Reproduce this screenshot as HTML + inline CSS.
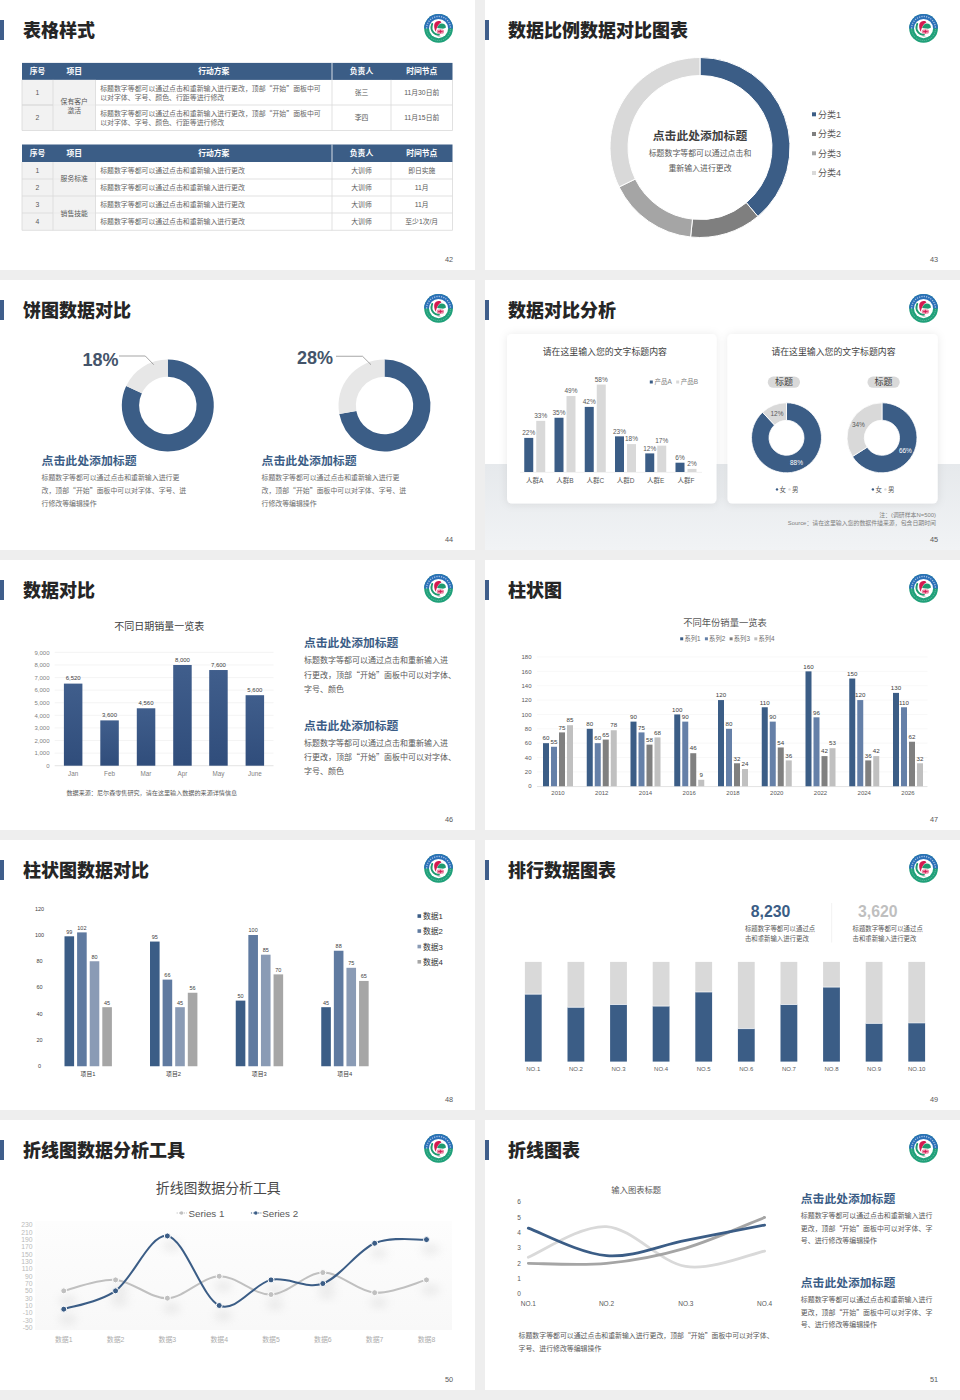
<!DOCTYPE html>
<html lang="zh-CN">
<head>
<meta charset="utf-8">
<title>Slides</title>
<style>
*{margin:0;padding:0;box-sizing:border-box}
html,body{width:960px;height:1400px;background:#eeeeee;overflow:hidden}
body{position:relative;font-family:"Liberation Sans","Noto Sans CJK SC",sans-serif;color:#595959}
.s{position:absolute;width:475px;height:270px;background:#fff;overflow:hidden}
.c{position:absolute;left:0;top:0}
.bar{position:absolute;left:0;top:20px;width:4.2px;height:20px;background:#3f5e8b}
.t{position:absolute;left:23px;top:18.5px;font-size:18px;line-height:24px;font-weight:900;color:#262626;white-space:nowrap;font-family:"Liberation Sans","Noto Sans CJK SC",sans-serif}
.logo{position:absolute;left:423.8px;top:13.6px;width:29px;height:29px}
.pn{position:absolute;right:22px;top:255px;font-size:7.3px;line-height:10px;color:#595959;font-family:"Liberation Sans",sans-serif}
svg text{font-family:"Liberation Sans","Noto Sans CJK SC",sans-serif}

</style>
</head>
<body>
<div class="s" style="left:0px;top:0px">
<svg class="c" width="475" height="270" viewBox="0 0 475 270">
<rect x="22.00" y="62.90" width="430.50" height="17.00" fill="#3b5d86"/>
<line x1="332.00" y1="62.90" x2="332.00" y2="79.90" stroke="#ffffff" stroke-width="0.8"/>
<text x="37.50" y="74.21" font-size="7.8" fill="#ffffff" text-anchor="middle" font-weight="bold">序号</text>
<text x="74.25" y="74.21" font-size="7.8" fill="#ffffff" text-anchor="middle" font-weight="bold">项目</text>
<text x="213.75" y="74.21" font-size="7.8" fill="#ffffff" text-anchor="middle" font-weight="bold">行动方案</text>
<text x="361.50" y="74.21" font-size="7.8" fill="#ffffff" text-anchor="middle" font-weight="bold">负责人</text>
<text x="421.75" y="74.21" font-size="7.8" fill="#ffffff" text-anchor="middle" font-weight="bold">时间节点</text>
<rect x="22.00" y="79.90" width="73.50" height="50.60" fill="#f2f2f2"/>
<line x1="22.00" y1="105.00" x2="452.50" y2="105.00" stroke="#d9d9d9" stroke-width="0.8"/>
<line x1="22.00" y1="130.50" x2="452.50" y2="130.50" stroke="#d9d9d9" stroke-width="0.8"/>
<line x1="22.00" y1="105.00" x2="53.00" y2="105.00" stroke="#d9d9d9" stroke-width="0.8"/>
<line x1="22.00" y1="79.90" x2="22.00" y2="130.50" stroke="#d9d9d9" stroke-width="0.8"/>
<line x1="53.00" y1="79.90" x2="53.00" y2="130.50" stroke="#d9d9d9" stroke-width="0.8"/>
<line x1="95.50" y1="79.90" x2="95.50" y2="130.50" stroke="#d9d9d9" stroke-width="0.8"/>
<line x1="332.00" y1="79.90" x2="332.00" y2="130.50" stroke="#d9d9d9" stroke-width="0.8"/>
<line x1="391.00" y1="79.90" x2="391.00" y2="130.50" stroke="#d9d9d9" stroke-width="0.8"/>
<line x1="452.50" y1="79.90" x2="452.50" y2="130.50" stroke="#d9d9d9" stroke-width="0.8"/>
<rect x="53.40" y="104.40" width="41.70" height="1.20" fill="#f2f2f2"/>
<text x="37.50" y="94.90" font-size="6.8" fill="#595959" text-anchor="middle">1</text>
<text x="100.20" y="90.83" font-size="6.9" fill="#666666">标题数字等都可以通过点击和重新输入进行更改，顶部<tspan font-family="Noto Sans CJK SC">“</tspan>开始<tspan font-family="Noto Sans CJK SC">”</tspan>面板中可</text>
<text x="100.20" y="100.03" font-size="6.9" fill="#666666">以对字体、字号、颜色、行距等进行修改</text>
<text x="361.50" y="94.90" font-size="6.8" fill="#595959" text-anchor="middle">张三</text>
<text x="421.75" y="94.90" font-size="6.8" fill="#595959" text-anchor="middle">11月30日前</text>
<text x="37.50" y="120.20" font-size="6.8" fill="#595959" text-anchor="middle">2</text>
<text x="100.20" y="116.13" font-size="6.9" fill="#666666">标题数字等都可以通过点击和重新输入进行更改，顶部<tspan font-family="Noto Sans CJK SC">“</tspan>开始<tspan font-family="Noto Sans CJK SC">”</tspan>面板中可</text>
<text x="100.20" y="125.33" font-size="6.9" fill="#666666">以对字体、字号、颜色、行距等进行修改</text>
<text x="361.50" y="120.20" font-size="6.8" fill="#595959" text-anchor="middle">李四</text>
<text x="421.75" y="120.20" font-size="6.8" fill="#595959" text-anchor="middle">11月15日前</text>
<text x="74.20" y="104.35" font-size="6.8" fill="#595959" text-anchor="middle">保有客户</text>
<text x="74.20" y="112.85" font-size="6.8" fill="#595959" text-anchor="middle">激活</text>
<rect x="22.00" y="144.50" width="430.50" height="17.50" fill="#3b5d86"/>
<line x1="332.00" y1="144.50" x2="332.00" y2="162.00" stroke="#ffffff" stroke-width="0.8"/>
<text x="37.50" y="156.06" font-size="7.8" fill="#ffffff" text-anchor="middle" font-weight="bold">序号</text>
<text x="74.25" y="156.06" font-size="7.8" fill="#ffffff" text-anchor="middle" font-weight="bold">项目</text>
<text x="213.75" y="156.06" font-size="7.8" fill="#ffffff" text-anchor="middle" font-weight="bold">行动方案</text>
<text x="361.50" y="156.06" font-size="7.8" fill="#ffffff" text-anchor="middle" font-weight="bold">负责人</text>
<text x="421.75" y="156.06" font-size="7.8" fill="#ffffff" text-anchor="middle" font-weight="bold">时间节点</text>
<rect x="22.00" y="162.00" width="73.50" height="68.30" fill="#f2f2f2"/>
<line x1="22.00" y1="179.00" x2="452.50" y2="179.00" stroke="#d9d9d9" stroke-width="0.8"/>
<line x1="22.00" y1="196.00" x2="452.50" y2="196.00" stroke="#d9d9d9" stroke-width="0.8"/>
<line x1="22.00" y1="213.00" x2="452.50" y2="213.00" stroke="#d9d9d9" stroke-width="0.8"/>
<line x1="22.00" y1="230.30" x2="452.50" y2="230.30" stroke="#d9d9d9" stroke-width="0.8"/>
<line x1="22.00" y1="162.00" x2="22.00" y2="230.30" stroke="#d9d9d9" stroke-width="0.8"/>
<line x1="53.00" y1="162.00" x2="53.00" y2="230.30" stroke="#d9d9d9" stroke-width="0.8"/>
<line x1="95.50" y1="162.00" x2="95.50" y2="230.30" stroke="#d9d9d9" stroke-width="0.8"/>
<line x1="332.00" y1="162.00" x2="332.00" y2="230.30" stroke="#d9d9d9" stroke-width="0.8"/>
<line x1="391.00" y1="162.00" x2="391.00" y2="230.30" stroke="#d9d9d9" stroke-width="0.8"/>
<line x1="452.50" y1="162.00" x2="452.50" y2="230.30" stroke="#d9d9d9" stroke-width="0.8"/>
<rect x="53.40" y="178.40" width="41.70" height="1.20" fill="#f2f2f2"/>
<rect x="53.40" y="212.40" width="41.70" height="1.20" fill="#f2f2f2"/>
<text x="37.50" y="172.95" font-size="6.8" fill="#595959" text-anchor="middle">1</text>
<text x="100.20" y="172.98" font-size="6.9" fill="#666666">标题数字等都可以通过点击和重新输入进行更改</text>
<text x="361.50" y="172.95" font-size="6.8" fill="#595959" text-anchor="middle">大训师</text>
<text x="421.75" y="172.95" font-size="6.8" fill="#595959" text-anchor="middle">即日实施</text>
<text x="37.50" y="189.95" font-size="6.8" fill="#595959" text-anchor="middle">2</text>
<text x="100.20" y="189.98" font-size="6.9" fill="#666666">标题数字等都可以通过点击和重新输入进行更改</text>
<text x="361.50" y="189.95" font-size="6.8" fill="#595959" text-anchor="middle">大训师</text>
<text x="421.75" y="189.95" font-size="6.8" fill="#595959" text-anchor="middle">11月</text>
<text x="37.50" y="206.95" font-size="6.8" fill="#595959" text-anchor="middle">3</text>
<text x="100.20" y="206.98" font-size="6.9" fill="#666666">标题数字等都可以通过点击和重新输入进行更改</text>
<text x="361.50" y="206.95" font-size="6.8" fill="#595959" text-anchor="middle">大训师</text>
<text x="421.75" y="206.95" font-size="6.8" fill="#595959" text-anchor="middle">11月</text>
<text x="37.50" y="224.10" font-size="6.8" fill="#595959" text-anchor="middle">4</text>
<text x="100.20" y="224.13" font-size="6.9" fill="#666666">标题数字等都可以通过点击和重新输入进行更改</text>
<text x="361.50" y="224.10" font-size="6.8" fill="#595959" text-anchor="middle">大训师</text>
<text x="421.75" y="224.10" font-size="6.8" fill="#595959" text-anchor="middle">至少1次/月</text>
<text x="74.20" y="181.45" font-size="6.8" fill="#595959" text-anchor="middle">服务标准</text>
<text x="74.20" y="215.60" font-size="6.8" fill="#595959" text-anchor="middle">销售技能</text>
</svg>
<div class="bar"></div><div class="t">表格样式</div>
<svg class="logo" viewBox="0 0 29 29"><circle cx="14.55" cy="14.45" r="14.35" fill="#1fa079"/>
<path d="M0.2,14.4 A14.35,14.35 0 0 1 28.9,14.4 Z" fill="#2a6fb8"/>
<path d="M2.6,14.4 A11.95,11.95 0 0 1 26.5,14.4" fill="none" stroke="#fff" stroke-width="1.3" stroke-dasharray="1.2 1.15" opacity="0.6"/>
<path d="M2.6,14.6 A11.95,11.95 0 0 0 26.5,14.6" fill="none" stroke="#fff" stroke-width="1" stroke-dasharray="0.9 1.2" opacity="0.35"/>
<circle cx="14.55" cy="14.6" r="9.55" fill="#fff"/>
<path d="M8.2,10 C7,13.2 7.4,16.5 9.5,18.7 C11,20.3 13,21 14.9,20.7" fill="none" stroke="#1e9a70" stroke-width="1.9" stroke-linecap="round"/>
<path d="M11.6,17.8 C10.4,15 9.8,12 10.4,9.9 C11.2,7.4 13.6,6.6 15.7,7 C16.6,7.2 17.2,7.9 17.4,8.6 C14.9,9.4 13,12.6 11.6,17.8 Z" fill="#d41a50"/>
<path d="M13.1,14.1 C13.9,11.4 15.6,9.6 17.8,9.6 C20.2,9.6 22,11.2 21.9,13.6 C20.6,15 18.6,14.7 17,14.5 C15.6,14.3 14.2,14.2 13.1,14.1 Z" fill="#1e9a70"/>
<rect x="12.7" y="15.4" width="7.3" height="4.3" rx="1.6" fill="#ea8aa6"/>
<path d="M14.1,17.55 H18.6 M16.35,15.7 V19.4" stroke="#d41a50" stroke-width="0.9"/>
<rect x="13.6" y="21.7" width="2.8" height="1" fill="#bbbbbb"/></svg>
<div class="pn">42</div>
</div>
<div class="s" style="left:485px;top:0px">
<svg class="c" width="475" height="270" viewBox="0 0 475 270">
<path d="M215.00,57.50 A90,90 0 0 1 272.85,216.44 L261.28,202.66 A72,72 0 0 0 215.00,75.50 Z" fill="#3b5d86" stroke="#fff" stroke-width="1"/>
<path d="M272.85,216.44 A90,90 0 0 1 205.59,237.01 L207.47,219.11 A72,72 0 0 0 261.28,202.66 Z" fill="#7f7f7f" stroke="#fff" stroke-width="1"/>
<path d="M205.59,237.01 A90,90 0 0 1 134.11,186.95 L150.29,179.06 A72,72 0 0 0 207.47,219.11 Z" fill="#a5a5a5" stroke="#fff" stroke-width="1"/>
<path d="M134.11,186.95 A90,90 0 0 1 215.00,57.50 L215.00,75.50 A72,72 0 0 0 150.29,179.06 Z" fill="#d9d9d9" stroke="#fff" stroke-width="1"/>
<text x="215.00" y="139.65" font-size="11.8" fill="#404040" text-anchor="middle" font-weight="bold">点击此处添加标题</text>
<text x="215.00" y="155.84" font-size="7.9" fill="#595959" text-anchor="middle">标题数字等都可以通过点击和</text>
<text x="215.00" y="170.54" font-size="7.9" fill="#595959" text-anchor="middle">重新输入进行更改</text>
<rect x="327.00" y="112.30" width="4.00" height="4.00" fill="#3b5d86"/>
<text x="333.00" y="117.54" font-size="9" fill="#595959">分类1</text>
<rect x="327.00" y="132.00" width="4.00" height="4.00" fill="#7f7f7f"/>
<text x="333.00" y="137.24" font-size="9" fill="#595959">分类2</text>
<rect x="327.00" y="151.30" width="4.00" height="4.00" fill="#a5a5a5"/>
<text x="333.00" y="156.54" font-size="9" fill="#595959">分类3</text>
<rect x="327.00" y="171.00" width="4.00" height="4.00" fill="#d9d9d9"/>
<text x="333.00" y="176.24" font-size="9" fill="#595959">分类4</text>
</svg>
<div class="bar"></div><div class="t">数据比例数据对比图表</div>
<svg class="logo" viewBox="0 0 29 29"><circle cx="14.55" cy="14.45" r="14.35" fill="#1fa079"/>
<path d="M0.2,14.4 A14.35,14.35 0 0 1 28.9,14.4 Z" fill="#2a6fb8"/>
<path d="M2.6,14.4 A11.95,11.95 0 0 1 26.5,14.4" fill="none" stroke="#fff" stroke-width="1.3" stroke-dasharray="1.2 1.15" opacity="0.6"/>
<path d="M2.6,14.6 A11.95,11.95 0 0 0 26.5,14.6" fill="none" stroke="#fff" stroke-width="1" stroke-dasharray="0.9 1.2" opacity="0.35"/>
<circle cx="14.55" cy="14.6" r="9.55" fill="#fff"/>
<path d="M8.2,10 C7,13.2 7.4,16.5 9.5,18.7 C11,20.3 13,21 14.9,20.7" fill="none" stroke="#1e9a70" stroke-width="1.9" stroke-linecap="round"/>
<path d="M11.6,17.8 C10.4,15 9.8,12 10.4,9.9 C11.2,7.4 13.6,6.6 15.7,7 C16.6,7.2 17.2,7.9 17.4,8.6 C14.9,9.4 13,12.6 11.6,17.8 Z" fill="#d41a50"/>
<path d="M13.1,14.1 C13.9,11.4 15.6,9.6 17.8,9.6 C20.2,9.6 22,11.2 21.9,13.6 C20.6,15 18.6,14.7 17,14.5 C15.6,14.3 14.2,14.2 13.1,14.1 Z" fill="#1e9a70"/>
<rect x="12.7" y="15.4" width="7.3" height="4.3" rx="1.6" fill="#ea8aa6"/>
<path d="M14.1,17.55 H18.6 M16.35,15.7 V19.4" stroke="#d41a50" stroke-width="0.9"/>
<rect x="13.6" y="21.7" width="2.8" height="1" fill="#bbbbbb"/></svg>
<div class="pn">43</div>
</div>
<div class="s" style="left:0px;top:280px">
<svg class="c" width="475" height="270" viewBox="0 0 475 270">
<path d="M167.80,79.50 A46,46 0 1 1 126.18,105.91 L141.83,113.28 A28.7,28.7 0 1 0 167.80,96.80 Z" fill="#3b5d86"/>
<path d="M126.18,105.91 A46,46 0 0 1 167.80,79.50 L167.80,96.80 A28.7,28.7 0 0 0 141.83,113.28 Z" fill="#e7e7e7"/>
<text x="82.50" y="86.48" font-size="18" fill="#44546a" font-weight="bold">18%</text>
<polyline points="119,76 145.3,76 153.75,84.7" fill="none" stroke="#7f7f7f" stroke-width="0.7"/>
<path d="M384.50,79.50 A46,46 0 1 1 339.31,134.12 L356.31,130.88 A28.7,28.7 0 1 0 384.50,96.80 Z" fill="#3b5d86"/>
<path d="M339.31,134.12 A46,46 0 0 1 384.50,79.50 L384.50,96.80 A28.7,28.7 0 0 0 356.31,130.88 Z" fill="#e7e7e7"/>
<text x="297.00" y="83.68" font-size="18" fill="#44546a" font-weight="bold">28%</text>
<polyline points="336,76.25 362.5,76.25 371,84.7" fill="none" stroke="#7f7f7f" stroke-width="0.7"/>
<text x="41.50" y="185.28" font-size="11.9" fill="#3b5d86" font-weight="bold">点击此处添加标题</text>
<text x="41.50" y="200.48" font-size="6.9" fill="#6b6b6b">标题数字等都可以通过点击和重新输入进行更</text>
<text x="41.50" y="213.48" font-size="6.9" fill="#6b6b6b">改，顶部<tspan font-family="Noto Sans CJK SC">“</tspan>开始<tspan font-family="Noto Sans CJK SC">”</tspan>面板中可以对字体、字号、进</text>
<text x="41.50" y="225.98" font-size="6.9" fill="#6b6b6b">行修改等编辑操作</text>
<text x="261.50" y="185.28" font-size="11.9" fill="#3b5d86" font-weight="bold">点击此处添加标题</text>
<text x="261.50" y="200.48" font-size="6.9" fill="#6b6b6b">标题数字等都可以通过点击和重新输入进行更</text>
<text x="261.50" y="213.48" font-size="6.9" fill="#6b6b6b">改，顶部<tspan font-family="Noto Sans CJK SC">“</tspan>开始<tspan font-family="Noto Sans CJK SC">”</tspan>面板中可以对字体、字号、进</text>
<text x="261.50" y="225.98" font-size="6.9" fill="#6b6b6b">行修改等编辑操作</text>
</svg>
<div class="bar"></div><div class="t">饼图数据对比</div>
<svg class="logo" viewBox="0 0 29 29"><circle cx="14.55" cy="14.45" r="14.35" fill="#1fa079"/>
<path d="M0.2,14.4 A14.35,14.35 0 0 1 28.9,14.4 Z" fill="#2a6fb8"/>
<path d="M2.6,14.4 A11.95,11.95 0 0 1 26.5,14.4" fill="none" stroke="#fff" stroke-width="1.3" stroke-dasharray="1.2 1.15" opacity="0.6"/>
<path d="M2.6,14.6 A11.95,11.95 0 0 0 26.5,14.6" fill="none" stroke="#fff" stroke-width="1" stroke-dasharray="0.9 1.2" opacity="0.35"/>
<circle cx="14.55" cy="14.6" r="9.55" fill="#fff"/>
<path d="M8.2,10 C7,13.2 7.4,16.5 9.5,18.7 C11,20.3 13,21 14.9,20.7" fill="none" stroke="#1e9a70" stroke-width="1.9" stroke-linecap="round"/>
<path d="M11.6,17.8 C10.4,15 9.8,12 10.4,9.9 C11.2,7.4 13.6,6.6 15.7,7 C16.6,7.2 17.2,7.9 17.4,8.6 C14.9,9.4 13,12.6 11.6,17.8 Z" fill="#d41a50"/>
<path d="M13.1,14.1 C13.9,11.4 15.6,9.6 17.8,9.6 C20.2,9.6 22,11.2 21.9,13.6 C20.6,15 18.6,14.7 17,14.5 C15.6,14.3 14.2,14.2 13.1,14.1 Z" fill="#1e9a70"/>
<rect x="12.7" y="15.4" width="7.3" height="4.3" rx="1.6" fill="#ea8aa6"/>
<path d="M14.1,17.55 H18.6 M16.35,15.7 V19.4" stroke="#d41a50" stroke-width="0.9"/>
<rect x="13.6" y="21.7" width="2.8" height="1" fill="#bbbbbb"/></svg>
<div class="pn">44</div>
</div>
<div class="s" style="left:485px;top:280px">
<svg class="c" width="475" height="270" viewBox="0 0 475 270">
<defs><linearGradient id="g45" x1="0" y1="0" x2="0" y2="1"><stop offset="0" stop-color="#e6e9ec"/><stop offset="1" stop-color="#f1f3f5"/></linearGradient><filter id="sh45" x="-15%" y="-20%" width="130%" height="140%"><feDropShadow dx="0" dy="0.5" stdDeviation="4" flood-color="#000" flood-opacity="0.09"/></filter></defs>
<rect x="0.00" y="184.00" width="475.00" height="86.00" fill="url(#g45)"/>
<rect x="22" y="54" width="209.5" height="169.6" rx="5" fill="#fff" filter="url(#sh45)"/>
<rect x="242.5" y="54" width="210.2" height="169.6" rx="5" fill="#fff" filter="url(#sh45)"/>
<text x="119.85" y="74.60" font-size="8.9" fill="#404040" text-anchor="middle">请在这里输入您的文字标题内容</text>
<rect x="164.80" y="100.50" width="3.00" height="3.00" fill="#3b5d86"/>
<text x="169.50" y="104.34" font-size="6.5" fill="#7f7f7f">产品A</text>
<rect x="191.20" y="100.50" width="3.00" height="3.00" fill="#d9d9d9"/>
<text x="195.80" y="104.34" font-size="6.5" fill="#7f7f7f">产品B</text>
<line x1="35.00" y1="192.40" x2="217.00" y2="192.40" stroke="#ececec" stroke-width="0.8"/>
<rect x="39.25" y="157.90" width="9.00" height="34.10" fill="#3b5d86"/>
<rect x="51.25" y="140.85" width="9.00" height="51.15" fill="#d9d9d9"/>
<text x="43.75" y="155.24" font-size="6.5" fill="#595959" text-anchor="middle">22%</text>
<text x="55.75" y="138.19" font-size="6.5" fill="#595959" text-anchor="middle">33%</text>
<text x="49.75" y="203.34" font-size="6.5" fill="#595959" text-anchor="middle">人群A</text>
<rect x="69.50" y="137.75" width="9.00" height="54.25" fill="#3b5d86"/>
<rect x="81.50" y="116.05" width="9.00" height="75.95" fill="#d9d9d9"/>
<text x="74.00" y="135.09" font-size="6.5" fill="#595959" text-anchor="middle">35%</text>
<text x="86.00" y="113.39" font-size="6.5" fill="#595959" text-anchor="middle">49%</text>
<text x="80.00" y="203.34" font-size="6.5" fill="#595959" text-anchor="middle">人群B</text>
<rect x="99.75" y="126.90" width="9.00" height="65.10" fill="#3b5d86"/>
<rect x="111.75" y="104.58" width="9.00" height="87.42" fill="#d9d9d9"/>
<text x="104.25" y="124.24" font-size="6.5" fill="#595959" text-anchor="middle">42%</text>
<text x="116.25" y="101.92" font-size="6.5" fill="#595959" text-anchor="middle">58%</text>
<text x="110.25" y="203.34" font-size="6.5" fill="#595959" text-anchor="middle">人群C</text>
<rect x="130.00" y="156.35" width="9.00" height="35.65" fill="#3b5d86"/>
<rect x="142.00" y="164.10" width="9.00" height="27.90" fill="#d9d9d9"/>
<text x="134.50" y="153.69" font-size="6.5" fill="#595959" text-anchor="middle">23%</text>
<text x="146.50" y="161.44" font-size="6.5" fill="#595959" text-anchor="middle">18%</text>
<text x="140.50" y="203.34" font-size="6.5" fill="#595959" text-anchor="middle">人群D</text>
<rect x="160.25" y="173.40" width="9.00" height="18.60" fill="#3b5d86"/>
<rect x="172.25" y="165.65" width="9.00" height="26.35" fill="#d9d9d9"/>
<text x="164.75" y="170.74" font-size="6.5" fill="#595959" text-anchor="middle">12%</text>
<text x="176.75" y="162.99" font-size="6.5" fill="#595959" text-anchor="middle">17%</text>
<text x="170.75" y="203.34" font-size="6.5" fill="#595959" text-anchor="middle">人群E</text>
<rect x="190.50" y="182.70" width="9.00" height="9.30" fill="#3b5d86"/>
<rect x="202.50" y="188.90" width="9.00" height="3.10" fill="#d9d9d9"/>
<text x="195.00" y="180.04" font-size="6.5" fill="#595959" text-anchor="middle">6%</text>
<text x="207.00" y="186.24" font-size="6.5" fill="#595959" text-anchor="middle">2%</text>
<text x="201.00" y="203.34" font-size="6.5" fill="#595959" text-anchor="middle">人群F</text>
<text x="348.50" y="75.00" font-size="8.9" fill="#404040" text-anchor="middle">请在这里输入您的文字标题内容</text>
<rect x="282.8" y="96.5" width="32.2" height="11.3" rx="5.6" fill="#d9d9d9"/>
<text x="298.90" y="105.44" font-size="9" fill="#404040" text-anchor="middle">标题</text>
<rect x="382.5" y="96.5" width="32.2" height="11.3" rx="5.6" fill="#d9d9d9"/>
<text x="398.60" y="105.44" font-size="9" fill="#404040" text-anchor="middle">标题</text>
<path d="M301.50,122.80 A35,35 0 1 1 277.54,132.29 L289.52,145.04 A17.5,17.5 0 1 0 301.50,140.30 Z" fill="#3b5d86" stroke="#fff" stroke-width="0.8"/>
<path d="M277.54,132.29 A35,35 0 0 1 301.50,122.80 L301.50,140.30 A17.5,17.5 0 0 0 289.52,145.04 Z" fill="#d9d9d9" stroke="#fff" stroke-width="0.8"/>
<text x="292.00" y="136.04" font-size="6.5" fill="#595959" text-anchor="middle">12%</text>
<text x="311.50" y="184.94" font-size="6.5" fill="#ffffff" text-anchor="middle">88%</text>
<path d="M397.00,122.80 A35,35 0 1 1 367.45,176.55 L382.22,167.18 A17.5,17.5 0 1 0 397.00,140.30 Z" fill="#3b5d86" stroke="#fff" stroke-width="0.8"/>
<path d="M367.45,176.55 A35,35 0 0 1 397.00,122.80 L397.00,140.30 A17.5,17.5 0 0 0 382.22,167.18 Z" fill="#d9d9d9" stroke="#fff" stroke-width="0.8"/>
<text x="373.40" y="147.34" font-size="6.5" fill="#595959" text-anchor="middle">34%</text>
<text x="420.40" y="172.74" font-size="6.5" fill="#ffffff" text-anchor="middle">66%</text>
<circle cx="292.0" cy="209.4" r="1.2" fill="#3b5d86"/>
<text x="294.50" y="211.74" font-size="6.5" fill="#595959">女</text>
<circle cx="304.5" cy="209.4" r="1.2" fill="#d9d9d9"/>
<text x="307.00" y="211.74" font-size="6.5" fill="#595959">男</text>
<circle cx="387.9" cy="209.4" r="1.2" fill="#3b5d86"/>
<text x="390.40" y="211.74" font-size="6.5" fill="#595959">女</text>
<circle cx="400.4" cy="209.4" r="1.2" fill="#d9d9d9"/>
<text x="402.90" y="211.74" font-size="6.5" fill="#595959">男</text>
<text x="451.00" y="236.62" font-size="5.9" fill="#7f7f7f" text-anchor="end">注：(调研样本N=500)</text>
<text x="451.00" y="245.12" font-size="5.9" fill="#7f7f7f" text-anchor="end">Source：请在这里输入您的数据件描来源，包含日期时间</text>
</svg>
<div class="bar"></div><div class="t">数据对比分析</div>
<svg class="logo" viewBox="0 0 29 29"><circle cx="14.55" cy="14.45" r="14.35" fill="#1fa079"/>
<path d="M0.2,14.4 A14.35,14.35 0 0 1 28.9,14.4 Z" fill="#2a6fb8"/>
<path d="M2.6,14.4 A11.95,11.95 0 0 1 26.5,14.4" fill="none" stroke="#fff" stroke-width="1.3" stroke-dasharray="1.2 1.15" opacity="0.6"/>
<path d="M2.6,14.6 A11.95,11.95 0 0 0 26.5,14.6" fill="none" stroke="#fff" stroke-width="1" stroke-dasharray="0.9 1.2" opacity="0.35"/>
<circle cx="14.55" cy="14.6" r="9.55" fill="#fff"/>
<path d="M8.2,10 C7,13.2 7.4,16.5 9.5,18.7 C11,20.3 13,21 14.9,20.7" fill="none" stroke="#1e9a70" stroke-width="1.9" stroke-linecap="round"/>
<path d="M11.6,17.8 C10.4,15 9.8,12 10.4,9.9 C11.2,7.4 13.6,6.6 15.7,7 C16.6,7.2 17.2,7.9 17.4,8.6 C14.9,9.4 13,12.6 11.6,17.8 Z" fill="#d41a50"/>
<path d="M13.1,14.1 C13.9,11.4 15.6,9.6 17.8,9.6 C20.2,9.6 22,11.2 21.9,13.6 C20.6,15 18.6,14.7 17,14.5 C15.6,14.3 14.2,14.2 13.1,14.1 Z" fill="#1e9a70"/>
<rect x="12.7" y="15.4" width="7.3" height="4.3" rx="1.6" fill="#ea8aa6"/>
<path d="M14.1,17.55 H18.6 M16.35,15.7 V19.4" stroke="#d41a50" stroke-width="0.9"/>
<rect x="13.6" y="21.7" width="2.8" height="1" fill="#bbbbbb"/></svg>
<div class="pn">45</div>
</div>
<div class="s" style="left:0px;top:560px">
<svg class="c" width="475" height="270" viewBox="0 0 475 270">
<defs><linearGradient id="g46" x1="0" y1="0" x2="0" y2="1"><stop offset="0" stop-color="#405e8c"/><stop offset="1" stop-color="#304d7b"/></linearGradient></defs>
<text x="159.30" y="69.60" font-size="10" fill="#404040" text-anchor="middle">不同日期销量一览表</text>
<text x="49.50" y="207.86" font-size="6" fill="#7f7f7f" text-anchor="end">0</text>
<line x1="54.70" y1="193.11" x2="273.50" y2="193.11" stroke="#ececec" stroke-width="0.6"/>
<text x="49.50" y="195.27" font-size="6" fill="#7f7f7f" text-anchor="end">1,000</text>
<line x1="54.70" y1="180.52" x2="273.50" y2="180.52" stroke="#ececec" stroke-width="0.6"/>
<text x="49.50" y="182.68" font-size="6" fill="#7f7f7f" text-anchor="end">2,000</text>
<line x1="54.70" y1="167.93" x2="273.50" y2="167.93" stroke="#ececec" stroke-width="0.6"/>
<text x="49.50" y="170.09" font-size="6" fill="#7f7f7f" text-anchor="end">3,000</text>
<line x1="54.70" y1="155.34" x2="273.50" y2="155.34" stroke="#ececec" stroke-width="0.6"/>
<text x="49.50" y="157.50" font-size="6" fill="#7f7f7f" text-anchor="end">4,000</text>
<line x1="54.70" y1="142.75" x2="273.50" y2="142.75" stroke="#ececec" stroke-width="0.6"/>
<text x="49.50" y="144.91" font-size="6" fill="#7f7f7f" text-anchor="end">5,000</text>
<line x1="54.70" y1="130.16" x2="273.50" y2="130.16" stroke="#ececec" stroke-width="0.6"/>
<text x="49.50" y="132.32" font-size="6" fill="#7f7f7f" text-anchor="end">6,000</text>
<line x1="54.70" y1="117.57" x2="273.50" y2="117.57" stroke="#ececec" stroke-width="0.6"/>
<text x="49.50" y="119.73" font-size="6" fill="#7f7f7f" text-anchor="end">7,000</text>
<line x1="54.70" y1="104.98" x2="273.50" y2="104.98" stroke="#ececec" stroke-width="0.6"/>
<text x="49.50" y="107.14" font-size="6" fill="#7f7f7f" text-anchor="end">8,000</text>
<line x1="54.70" y1="92.39" x2="273.50" y2="92.39" stroke="#ececec" stroke-width="0.6"/>
<text x="49.50" y="94.55" font-size="6" fill="#7f7f7f" text-anchor="end">9,000</text>
<line x1="54.70" y1="205.70" x2="273.50" y2="205.70" stroke="#d9d9d9" stroke-width="0.7"/>
<rect x="63.90" y="123.61" width="18.50" height="82.09" fill="url(#g46)"/>
<text x="73.15" y="120.27" font-size="6" fill="#404040" text-anchor="middle">6,520</text>
<text x="73.15" y="215.57" font-size="6.3" fill="#7f7f7f" text-anchor="middle">Jan</text>
<rect x="100.30" y="160.38" width="18.50" height="45.32" fill="url(#g46)"/>
<text x="109.55" y="157.04" font-size="6" fill="#404040" text-anchor="middle">3,600</text>
<text x="109.55" y="215.57" font-size="6.3" fill="#7f7f7f" text-anchor="middle">Feb</text>
<rect x="136.80" y="148.29" width="18.50" height="57.41" fill="url(#g46)"/>
<text x="146.05" y="144.95" font-size="6" fill="#404040" text-anchor="middle">4,560</text>
<text x="146.05" y="215.57" font-size="6.3" fill="#7f7f7f" text-anchor="middle">Mar</text>
<rect x="173.20" y="104.98" width="18.50" height="100.72" fill="url(#g46)"/>
<text x="182.45" y="101.64" font-size="6" fill="#404040" text-anchor="middle">8,000</text>
<text x="182.45" y="215.57" font-size="6.3" fill="#7f7f7f" text-anchor="middle">Apr</text>
<rect x="209.20" y="110.02" width="18.50" height="95.68" fill="url(#g46)"/>
<text x="218.45" y="106.68" font-size="6" fill="#404040" text-anchor="middle">7,600</text>
<text x="218.45" y="215.57" font-size="6.3" fill="#7f7f7f" text-anchor="middle">May</text>
<rect x="245.60" y="135.20" width="18.50" height="70.50" fill="url(#g46)"/>
<text x="254.85" y="131.86" font-size="6" fill="#404040" text-anchor="middle">5,600</text>
<text x="254.85" y="215.57" font-size="6.3" fill="#7f7f7f" text-anchor="middle">June</text>
<text x="66.50" y="234.50" font-size="6.1" fill="#595959">数据来源：尼尔森零售研究，请在这里输入数据的来源详情信息</text>
<text x="304.00" y="86.75" font-size="11.8" fill="#3b5d86" font-weight="bold">点击此处添加标题</text>
<text x="304.00" y="103.48" font-size="8" fill="#595959">标题数字等都可以通过点击和重新输入进</text>
<text x="304.00" y="117.58" font-size="8" fill="#595959">行更改，顶部<tspan font-family="Noto Sans CJK SC">“</tspan>开始<tspan font-family="Noto Sans CJK SC">”</tspan>面板中可以对字体、</text>
<text x="304.00" y="131.63" font-size="8" fill="#595959">字号、颜色</text>
<text x="304.00" y="169.55" font-size="11.8" fill="#3b5d86" font-weight="bold">点击此处添加标题</text>
<text x="304.00" y="186.28" font-size="8" fill="#595959">标题数字等都可以通过点击和重新输入进</text>
<text x="304.00" y="200.38" font-size="8" fill="#595959">行更改，顶部<tspan font-family="Noto Sans CJK SC">“</tspan>开始<tspan font-family="Noto Sans CJK SC">”</tspan>面板中可以对字体、</text>
<text x="304.00" y="214.43" font-size="8" fill="#595959">字号、颜色</text>
</svg>
<div class="bar"></div><div class="t">数据对比</div>
<svg class="logo" viewBox="0 0 29 29"><circle cx="14.55" cy="14.45" r="14.35" fill="#1fa079"/>
<path d="M0.2,14.4 A14.35,14.35 0 0 1 28.9,14.4 Z" fill="#2a6fb8"/>
<path d="M2.6,14.4 A11.95,11.95 0 0 1 26.5,14.4" fill="none" stroke="#fff" stroke-width="1.3" stroke-dasharray="1.2 1.15" opacity="0.6"/>
<path d="M2.6,14.6 A11.95,11.95 0 0 0 26.5,14.6" fill="none" stroke="#fff" stroke-width="1" stroke-dasharray="0.9 1.2" opacity="0.35"/>
<circle cx="14.55" cy="14.6" r="9.55" fill="#fff"/>
<path d="M8.2,10 C7,13.2 7.4,16.5 9.5,18.7 C11,20.3 13,21 14.9,20.7" fill="none" stroke="#1e9a70" stroke-width="1.9" stroke-linecap="round"/>
<path d="M11.6,17.8 C10.4,15 9.8,12 10.4,9.9 C11.2,7.4 13.6,6.6 15.7,7 C16.6,7.2 17.2,7.9 17.4,8.6 C14.9,9.4 13,12.6 11.6,17.8 Z" fill="#d41a50"/>
<path d="M13.1,14.1 C13.9,11.4 15.6,9.6 17.8,9.6 C20.2,9.6 22,11.2 21.9,13.6 C20.6,15 18.6,14.7 17,14.5 C15.6,14.3 14.2,14.2 13.1,14.1 Z" fill="#1e9a70"/>
<rect x="12.7" y="15.4" width="7.3" height="4.3" rx="1.6" fill="#ea8aa6"/>
<path d="M14.1,17.55 H18.6 M16.35,15.7 V19.4" stroke="#d41a50" stroke-width="0.9"/>
<rect x="13.6" y="21.7" width="2.8" height="1" fill="#bbbbbb"/></svg>
<div class="pn">46</div>
</div>
<div class="s" style="left:485px;top:560px">
<svg class="c" width="475" height="270" viewBox="0 0 475 270">
<text x="240.00" y="66.35" font-size="9.3" fill="#595959" text-anchor="middle">不同年份销量一览表</text>
<rect x="195.20" y="77.30" width="3.00" height="3.00" fill="#3b5d86"/>
<text x="199.40" y="81.02" font-size="6.3" fill="#6b6b6b">系列1</text>
<rect x="219.90" y="77.30" width="3.00" height="3.00" fill="#6580a8"/>
<text x="224.10" y="81.02" font-size="6.3" fill="#6b6b6b">系列2</text>
<rect x="244.60" y="77.30" width="3.00" height="3.00" fill="#808080"/>
<text x="248.80" y="81.02" font-size="6.3" fill="#6b6b6b">系列3</text>
<rect x="269.30" y="77.30" width="3.00" height="3.00" fill="#c0c0c0"/>
<text x="273.50" y="81.02" font-size="6.3" fill="#6b6b6b">系列4</text>
<text x="46.50" y="228.41" font-size="6" fill="#595959" text-anchor="end">0</text>
<line x1="52.00" y1="211.89" x2="442.50" y2="211.89" stroke="#f3f3f3" stroke-width="0.6"/>
<text x="46.50" y="214.05" font-size="6" fill="#595959" text-anchor="end">20</text>
<line x1="52.00" y1="197.53" x2="442.50" y2="197.53" stroke="#f3f3f3" stroke-width="0.6"/>
<text x="46.50" y="199.69" font-size="6" fill="#595959" text-anchor="end">40</text>
<line x1="52.00" y1="183.17" x2="442.50" y2="183.17" stroke="#f3f3f3" stroke-width="0.6"/>
<text x="46.50" y="185.33" font-size="6" fill="#595959" text-anchor="end">60</text>
<line x1="52.00" y1="168.81" x2="442.50" y2="168.81" stroke="#f3f3f3" stroke-width="0.6"/>
<text x="46.50" y="170.97" font-size="6" fill="#595959" text-anchor="end">80</text>
<line x1="52.00" y1="154.44" x2="442.50" y2="154.44" stroke="#f3f3f3" stroke-width="0.6"/>
<text x="46.50" y="156.60" font-size="6" fill="#595959" text-anchor="end">100</text>
<line x1="52.00" y1="140.08" x2="442.50" y2="140.08" stroke="#f3f3f3" stroke-width="0.6"/>
<text x="46.50" y="142.24" font-size="6" fill="#595959" text-anchor="end">120</text>
<line x1="52.00" y1="125.72" x2="442.50" y2="125.72" stroke="#f3f3f3" stroke-width="0.6"/>
<text x="46.50" y="127.88" font-size="6" fill="#595959" text-anchor="end">140</text>
<line x1="52.00" y1="111.36" x2="442.50" y2="111.36" stroke="#f3f3f3" stroke-width="0.6"/>
<text x="46.50" y="113.52" font-size="6" fill="#595959" text-anchor="end">160</text>
<line x1="52.00" y1="97.00" x2="442.50" y2="97.00" stroke="#f3f3f3" stroke-width="0.6"/>
<text x="46.50" y="99.16" font-size="6" fill="#595959" text-anchor="end">180</text>
<line x1="52.00" y1="226.55" x2="442.50" y2="226.55" stroke="#d9d9d9" stroke-width="0.7"/>
<rect x="58.00" y="183.17" width="6.00" height="43.08" fill="#3b5d86"/>
<text x="61.00" y="180.40" font-size="6.2" fill="#404040" text-anchor="middle">60</text>
<rect x="66.00" y="186.76" width="6.00" height="39.49" fill="#6580a8"/>
<text x="69.00" y="183.99" font-size="6.2" fill="#404040" text-anchor="middle">55</text>
<rect x="74.00" y="172.40" width="6.00" height="53.85" fill="#808080"/>
<text x="77.00" y="169.63" font-size="6.2" fill="#404040" text-anchor="middle">75</text>
<rect x="82.00" y="165.22" width="6.00" height="61.03" fill="#c0c0c0"/>
<text x="85.00" y="162.45" font-size="6.2" fill="#404040" text-anchor="middle">85</text>
<text x="73.00" y="235.16" font-size="6" fill="#595959" text-anchor="middle">2010</text>
<rect x="101.75" y="168.81" width="6.00" height="57.44" fill="#3b5d86"/>
<text x="104.75" y="166.04" font-size="6.2" fill="#404040" text-anchor="middle">80</text>
<rect x="109.75" y="183.17" width="6.00" height="43.08" fill="#6580a8"/>
<text x="112.75" y="180.40" font-size="6.2" fill="#404040" text-anchor="middle">60</text>
<rect x="117.75" y="179.58" width="6.00" height="46.67" fill="#808080"/>
<text x="120.75" y="176.81" font-size="6.2" fill="#404040" text-anchor="middle">65</text>
<rect x="125.75" y="170.24" width="6.00" height="56.01" fill="#c0c0c0"/>
<text x="128.75" y="167.47" font-size="6.2" fill="#404040" text-anchor="middle">78</text>
<text x="116.75" y="235.16" font-size="6" fill="#595959" text-anchor="middle">2012</text>
<rect x="145.50" y="161.62" width="6.00" height="64.62" fill="#3b5d86"/>
<text x="148.50" y="158.86" font-size="6.2" fill="#404040" text-anchor="middle">90</text>
<rect x="153.50" y="172.40" width="6.00" height="53.85" fill="#6580a8"/>
<text x="156.50" y="169.63" font-size="6.2" fill="#404040" text-anchor="middle">75</text>
<rect x="161.50" y="184.60" width="6.00" height="41.65" fill="#808080"/>
<text x="164.50" y="181.83" font-size="6.2" fill="#404040" text-anchor="middle">58</text>
<rect x="169.50" y="177.42" width="6.00" height="48.83" fill="#c0c0c0"/>
<text x="172.50" y="174.65" font-size="6.2" fill="#404040" text-anchor="middle">68</text>
<text x="160.50" y="235.16" font-size="6" fill="#595959" text-anchor="middle">2014</text>
<rect x="189.25" y="154.44" width="6.00" height="71.81" fill="#3b5d86"/>
<text x="192.25" y="151.68" font-size="6.2" fill="#404040" text-anchor="middle">100</text>
<rect x="197.25" y="161.62" width="6.00" height="64.62" fill="#6580a8"/>
<text x="200.25" y="158.86" font-size="6.2" fill="#404040" text-anchor="middle">90</text>
<rect x="205.25" y="193.22" width="6.00" height="33.03" fill="#808080"/>
<text x="208.25" y="190.45" font-size="6.2" fill="#404040" text-anchor="middle">46</text>
<rect x="213.25" y="219.79" width="6.00" height="6.46" fill="#c0c0c0"/>
<text x="216.25" y="217.02" font-size="6.2" fill="#404040" text-anchor="middle">9</text>
<text x="204.25" y="235.16" font-size="6" fill="#595959" text-anchor="middle">2016</text>
<rect x="233.00" y="140.08" width="6.00" height="86.17" fill="#3b5d86"/>
<text x="236.00" y="137.32" font-size="6.2" fill="#404040" text-anchor="middle">120</text>
<rect x="241.00" y="168.81" width="6.00" height="57.44" fill="#6580a8"/>
<text x="244.00" y="166.04" font-size="6.2" fill="#404040" text-anchor="middle">80</text>
<rect x="249.00" y="203.27" width="6.00" height="22.98" fill="#808080"/>
<text x="252.00" y="200.50" font-size="6.2" fill="#404040" text-anchor="middle">32</text>
<rect x="257.00" y="209.02" width="6.00" height="17.23" fill="#c0c0c0"/>
<text x="260.00" y="206.25" font-size="6.2" fill="#404040" text-anchor="middle">24</text>
<text x="248.00" y="235.16" font-size="6" fill="#595959" text-anchor="middle">2018</text>
<rect x="276.75" y="147.26" width="6.00" height="78.99" fill="#3b5d86"/>
<text x="279.75" y="144.50" font-size="6.2" fill="#404040" text-anchor="middle">110</text>
<rect x="284.75" y="161.62" width="6.00" height="64.62" fill="#6580a8"/>
<text x="287.75" y="158.86" font-size="6.2" fill="#404040" text-anchor="middle">90</text>
<rect x="292.75" y="187.47" width="6.00" height="38.77" fill="#808080"/>
<text x="295.75" y="184.71" font-size="6.2" fill="#404040" text-anchor="middle">54</text>
<rect x="300.75" y="200.40" width="6.00" height="25.85" fill="#c0c0c0"/>
<text x="303.75" y="197.63" font-size="6.2" fill="#404040" text-anchor="middle">36</text>
<text x="291.75" y="235.16" font-size="6" fill="#595959" text-anchor="middle">2020</text>
<rect x="320.50" y="111.36" width="6.00" height="114.89" fill="#3b5d86"/>
<text x="323.50" y="108.59" font-size="6.2" fill="#404040" text-anchor="middle">160</text>
<rect x="328.50" y="157.32" width="6.00" height="68.93" fill="#6580a8"/>
<text x="331.50" y="154.55" font-size="6.2" fill="#404040" text-anchor="middle">96</text>
<rect x="336.50" y="196.09" width="6.00" height="30.16" fill="#808080"/>
<text x="339.50" y="193.32" font-size="6.2" fill="#404040" text-anchor="middle">42</text>
<rect x="344.50" y="188.19" width="6.00" height="38.06" fill="#c0c0c0"/>
<text x="347.50" y="185.43" font-size="6.2" fill="#404040" text-anchor="middle">53</text>
<text x="335.50" y="235.16" font-size="6" fill="#595959" text-anchor="middle">2022</text>
<rect x="364.25" y="118.54" width="6.00" height="107.71" fill="#3b5d86"/>
<text x="367.25" y="115.77" font-size="6.2" fill="#404040" text-anchor="middle">150</text>
<rect x="372.25" y="140.08" width="6.00" height="86.17" fill="#6580a8"/>
<text x="375.25" y="137.32" font-size="6.2" fill="#404040" text-anchor="middle">120</text>
<rect x="380.25" y="200.40" width="6.00" height="25.85" fill="#808080"/>
<text x="383.25" y="197.63" font-size="6.2" fill="#404040" text-anchor="middle">36</text>
<rect x="388.25" y="196.09" width="6.00" height="30.16" fill="#c0c0c0"/>
<text x="391.25" y="193.32" font-size="6.2" fill="#404040" text-anchor="middle">42</text>
<text x="379.25" y="235.16" font-size="6" fill="#595959" text-anchor="middle">2024</text>
<rect x="408.00" y="132.90" width="6.00" height="93.35" fill="#3b5d86"/>
<text x="411.00" y="130.13" font-size="6.2" fill="#404040" text-anchor="middle">130</text>
<rect x="416.00" y="147.26" width="6.00" height="78.99" fill="#6580a8"/>
<text x="419.00" y="144.50" font-size="6.2" fill="#404040" text-anchor="middle">110</text>
<rect x="424.00" y="181.73" width="6.00" height="44.52" fill="#808080"/>
<text x="427.00" y="178.96" font-size="6.2" fill="#404040" text-anchor="middle">62</text>
<rect x="432.00" y="203.27" width="6.00" height="22.98" fill="#c0c0c0"/>
<text x="435.00" y="200.50" font-size="6.2" fill="#404040" text-anchor="middle">32</text>
<text x="423.00" y="235.16" font-size="6" fill="#595959" text-anchor="middle">2026</text>
</svg>
<div class="bar"></div><div class="t">柱状图</div>
<svg class="logo" viewBox="0 0 29 29"><circle cx="14.55" cy="14.45" r="14.35" fill="#1fa079"/>
<path d="M0.2,14.4 A14.35,14.35 0 0 1 28.9,14.4 Z" fill="#2a6fb8"/>
<path d="M2.6,14.4 A11.95,11.95 0 0 1 26.5,14.4" fill="none" stroke="#fff" stroke-width="1.3" stroke-dasharray="1.2 1.15" opacity="0.6"/>
<path d="M2.6,14.6 A11.95,11.95 0 0 0 26.5,14.6" fill="none" stroke="#fff" stroke-width="1" stroke-dasharray="0.9 1.2" opacity="0.35"/>
<circle cx="14.55" cy="14.6" r="9.55" fill="#fff"/>
<path d="M8.2,10 C7,13.2 7.4,16.5 9.5,18.7 C11,20.3 13,21 14.9,20.7" fill="none" stroke="#1e9a70" stroke-width="1.9" stroke-linecap="round"/>
<path d="M11.6,17.8 C10.4,15 9.8,12 10.4,9.9 C11.2,7.4 13.6,6.6 15.7,7 C16.6,7.2 17.2,7.9 17.4,8.6 C14.9,9.4 13,12.6 11.6,17.8 Z" fill="#d41a50"/>
<path d="M13.1,14.1 C13.9,11.4 15.6,9.6 17.8,9.6 C20.2,9.6 22,11.2 21.9,13.6 C20.6,15 18.6,14.7 17,14.5 C15.6,14.3 14.2,14.2 13.1,14.1 Z" fill="#1e9a70"/>
<rect x="12.7" y="15.4" width="7.3" height="4.3" rx="1.6" fill="#ea8aa6"/>
<path d="M14.1,17.55 H18.6 M16.35,15.7 V19.4" stroke="#d41a50" stroke-width="0.9"/>
<rect x="13.6" y="21.7" width="2.8" height="1" fill="#bbbbbb"/></svg>
<div class="pn">47</div>
</div>
<div class="s" style="left:0px;top:840px">
<svg class="c" width="475" height="270" viewBox="0 0 475 270">
<text x="39.50" y="228.23" font-size="5.5" fill="#404040" text-anchor="middle">0</text>
<text x="39.50" y="201.98" font-size="5.5" fill="#404040" text-anchor="middle">20</text>
<text x="39.50" y="175.73" font-size="5.5" fill="#404040" text-anchor="middle">40</text>
<text x="39.50" y="149.48" font-size="5.5" fill="#404040" text-anchor="middle">60</text>
<text x="39.50" y="123.23" font-size="5.5" fill="#404040" text-anchor="middle">80</text>
<text x="39.50" y="96.98" font-size="5.5" fill="#404040" text-anchor="middle">100</text>
<text x="39.50" y="70.73" font-size="5.5" fill="#404040" text-anchor="middle">120</text>
<rect x="64.50" y="96.31" width="9.60" height="129.94" fill="#3b5d86"/>
<text x="69.30" y="93.79" font-size="5.5" fill="#404040" text-anchor="middle">99</text>
<rect x="77.10" y="92.38" width="9.60" height="133.88" fill="#5f7aa0"/>
<text x="81.90" y="89.86" font-size="5.5" fill="#404040" text-anchor="middle">102</text>
<rect x="89.70" y="121.25" width="9.60" height="105.00" fill="#8a9bb5"/>
<text x="94.50" y="118.73" font-size="5.5" fill="#404040" text-anchor="middle">80</text>
<rect x="102.30" y="167.19" width="9.60" height="59.06" fill="#a6a6a6"/>
<text x="107.10" y="164.67" font-size="5.5" fill="#404040" text-anchor="middle">45</text>
<text x="88.00" y="235.84" font-size="5.8" fill="#404040" text-anchor="middle">项目1</text>
<rect x="150.00" y="101.56" width="9.60" height="124.69" fill="#3b5d86"/>
<text x="154.80" y="99.04" font-size="5.5" fill="#404040" text-anchor="middle">95</text>
<rect x="162.60" y="139.62" width="9.60" height="86.62" fill="#5f7aa0"/>
<text x="167.40" y="137.10" font-size="5.5" fill="#404040" text-anchor="middle">66</text>
<rect x="175.20" y="167.19" width="9.60" height="59.06" fill="#8a9bb5"/>
<text x="180.00" y="164.67" font-size="5.5" fill="#404040" text-anchor="middle">45</text>
<rect x="187.80" y="152.75" width="9.60" height="73.50" fill="#a6a6a6"/>
<text x="192.60" y="150.23" font-size="5.5" fill="#404040" text-anchor="middle">56</text>
<text x="173.50" y="235.84" font-size="5.8" fill="#404040" text-anchor="middle">项目2</text>
<rect x="235.75" y="160.62" width="9.60" height="65.62" fill="#3b5d86"/>
<text x="240.55" y="158.10" font-size="5.5" fill="#404040" text-anchor="middle">50</text>
<rect x="248.35" y="95.00" width="9.60" height="131.25" fill="#5f7aa0"/>
<text x="253.15" y="92.48" font-size="5.5" fill="#404040" text-anchor="middle">100</text>
<rect x="260.95" y="114.69" width="9.60" height="111.56" fill="#8a9bb5"/>
<text x="265.75" y="112.17" font-size="5.5" fill="#404040" text-anchor="middle">85</text>
<rect x="273.55" y="134.38" width="9.60" height="91.88" fill="#a6a6a6"/>
<text x="278.35" y="131.85" font-size="5.5" fill="#404040" text-anchor="middle">70</text>
<text x="259.25" y="235.84" font-size="5.8" fill="#404040" text-anchor="middle">项目3</text>
<rect x="321.25" y="167.19" width="9.60" height="59.06" fill="#3b5d86"/>
<text x="326.05" y="164.67" font-size="5.5" fill="#404040" text-anchor="middle">45</text>
<rect x="333.85" y="110.75" width="9.60" height="115.50" fill="#5f7aa0"/>
<text x="338.65" y="108.23" font-size="5.5" fill="#404040" text-anchor="middle">88</text>
<rect x="346.45" y="127.81" width="9.60" height="98.44" fill="#8a9bb5"/>
<text x="351.25" y="125.29" font-size="5.5" fill="#404040" text-anchor="middle">75</text>
<rect x="359.05" y="140.94" width="9.60" height="85.31" fill="#a6a6a6"/>
<text x="363.85" y="138.42" font-size="5.5" fill="#404040" text-anchor="middle">65</text>
<text x="344.75" y="235.84" font-size="5.8" fill="#404040" text-anchor="middle">项目4</text>
<rect x="417.50" y="74.25" width="3.60" height="3.60" fill="#3b5d86"/>
<text x="423.00" y="79.06" font-size="7.8" fill="#333333">数据1</text>
<rect x="417.50" y="89.25" width="3.60" height="3.60" fill="#5f7aa0"/>
<text x="423.00" y="94.06" font-size="7.8" fill="#333333">数据2</text>
<rect x="417.50" y="104.75" width="3.60" height="3.60" fill="#8a9bb5"/>
<text x="423.00" y="109.56" font-size="7.8" fill="#333333">数据3</text>
<rect x="417.50" y="120.00" width="3.60" height="3.60" fill="#a6a6a6"/>
<text x="423.00" y="124.81" font-size="7.8" fill="#333333">数据4</text>
</svg>
<div class="bar"></div><div class="t">柱状图数据对比</div>
<svg class="logo" viewBox="0 0 29 29"><circle cx="14.55" cy="14.45" r="14.35" fill="#1fa079"/>
<path d="M0.2,14.4 A14.35,14.35 0 0 1 28.9,14.4 Z" fill="#2a6fb8"/>
<path d="M2.6,14.4 A11.95,11.95 0 0 1 26.5,14.4" fill="none" stroke="#fff" stroke-width="1.3" stroke-dasharray="1.2 1.15" opacity="0.6"/>
<path d="M2.6,14.6 A11.95,11.95 0 0 0 26.5,14.6" fill="none" stroke="#fff" stroke-width="1" stroke-dasharray="0.9 1.2" opacity="0.35"/>
<circle cx="14.55" cy="14.6" r="9.55" fill="#fff"/>
<path d="M8.2,10 C7,13.2 7.4,16.5 9.5,18.7 C11,20.3 13,21 14.9,20.7" fill="none" stroke="#1e9a70" stroke-width="1.9" stroke-linecap="round"/>
<path d="M11.6,17.8 C10.4,15 9.8,12 10.4,9.9 C11.2,7.4 13.6,6.6 15.7,7 C16.6,7.2 17.2,7.9 17.4,8.6 C14.9,9.4 13,12.6 11.6,17.8 Z" fill="#d41a50"/>
<path d="M13.1,14.1 C13.9,11.4 15.6,9.6 17.8,9.6 C20.2,9.6 22,11.2 21.9,13.6 C20.6,15 18.6,14.7 17,14.5 C15.6,14.3 14.2,14.2 13.1,14.1 Z" fill="#1e9a70"/>
<rect x="12.7" y="15.4" width="7.3" height="4.3" rx="1.6" fill="#ea8aa6"/>
<path d="M14.1,17.55 H18.6 M16.35,15.7 V19.4" stroke="#d41a50" stroke-width="0.9"/>
<rect x="13.6" y="21.7" width="2.8" height="1" fill="#bbbbbb"/></svg>
<div class="pn">48</div>
</div>
<div class="s" style="left:485px;top:840px">
<svg class="c" width="475" height="270" viewBox="0 0 475 270">
<text x="265.80" y="76.69" font-size="15.8" fill="#3b5d86" font-weight="bold">8,230</text>
<text x="373.00" y="76.69" font-size="15.8" fill="#bfbfbf" font-weight="bold">3,620</text>
<line x1="346.70" y1="63.00" x2="346.70" y2="102.50" stroke="#eeeeee" stroke-width="0.8"/>
<text x="259.90" y="90.60" font-size="6.4" fill="#595959">标题数字等都可以通过点</text>
<text x="259.90" y="100.90" font-size="6.4" fill="#595959">击和重新输入进行更改</text>
<text x="367.50" y="90.60" font-size="6.4" fill="#595959">标题数字等都可以通过点</text>
<text x="367.50" y="100.90" font-size="6.4" fill="#595959">击和重新输入进行更改</text>
<rect x="39.90" y="121.90" width="16.80" height="32.30" fill="#d9d9d9"/>
<rect x="39.90" y="154.20" width="16.80" height="67.40" fill="#3b5d86"/>
<line x1="39.90" y1="154.20" x2="56.70" y2="154.20" stroke="#ffffff" stroke-width="0.7"/>
<text x="48.30" y="230.86" font-size="6" fill="#595959" text-anchor="middle">NO.1</text>
<rect x="82.50" y="121.90" width="16.80" height="45.40" fill="#d9d9d9"/>
<rect x="82.50" y="167.30" width="16.80" height="54.30" fill="#3b5d86"/>
<line x1="82.50" y1="167.30" x2="99.30" y2="167.30" stroke="#ffffff" stroke-width="0.7"/>
<text x="90.90" y="230.86" font-size="6" fill="#595959" text-anchor="middle">NO.2</text>
<rect x="125.10" y="121.90" width="16.80" height="42.60" fill="#d9d9d9"/>
<rect x="125.10" y="164.50" width="16.80" height="57.10" fill="#3b5d86"/>
<line x1="125.10" y1="164.50" x2="141.90" y2="164.50" stroke="#ffffff" stroke-width="0.7"/>
<text x="133.50" y="230.86" font-size="6" fill="#595959" text-anchor="middle">NO.3</text>
<rect x="167.70" y="121.90" width="16.80" height="44.20" fill="#d9d9d9"/>
<rect x="167.70" y="166.10" width="16.80" height="55.50" fill="#3b5d86"/>
<line x1="167.70" y1="166.10" x2="184.50" y2="166.10" stroke="#ffffff" stroke-width="0.7"/>
<text x="176.10" y="230.86" font-size="6" fill="#595959" text-anchor="middle">NO.4</text>
<rect x="210.30" y="121.90" width="16.80" height="30.10" fill="#d9d9d9"/>
<rect x="210.30" y="152.00" width="16.80" height="69.60" fill="#3b5d86"/>
<line x1="210.30" y1="152.00" x2="227.10" y2="152.00" stroke="#ffffff" stroke-width="0.7"/>
<text x="218.70" y="230.86" font-size="6" fill="#595959" text-anchor="middle">NO.5</text>
<rect x="252.90" y="121.90" width="16.80" height="66.70" fill="#d9d9d9"/>
<rect x="252.90" y="188.60" width="16.80" height="33.00" fill="#3b5d86"/>
<line x1="252.90" y1="188.60" x2="269.70" y2="188.60" stroke="#ffffff" stroke-width="0.7"/>
<text x="261.30" y="230.86" font-size="6" fill="#595959" text-anchor="middle">NO.6</text>
<rect x="295.50" y="121.90" width="16.80" height="42.60" fill="#d9d9d9"/>
<rect x="295.50" y="164.50" width="16.80" height="57.10" fill="#3b5d86"/>
<line x1="295.50" y1="164.50" x2="312.30" y2="164.50" stroke="#ffffff" stroke-width="0.7"/>
<text x="303.90" y="230.86" font-size="6" fill="#595959" text-anchor="middle">NO.7</text>
<rect x="338.10" y="121.90" width="16.80" height="25.20" fill="#d9d9d9"/>
<rect x="338.10" y="147.10" width="16.80" height="74.50" fill="#3b5d86"/>
<line x1="338.10" y1="147.10" x2="354.90" y2="147.10" stroke="#ffffff" stroke-width="0.7"/>
<text x="346.50" y="230.86" font-size="6" fill="#595959" text-anchor="middle">NO.8</text>
<rect x="380.70" y="121.90" width="16.80" height="61.50" fill="#d9d9d9"/>
<rect x="380.70" y="183.40" width="16.80" height="38.20" fill="#3b5d86"/>
<line x1="380.70" y1="183.40" x2="397.50" y2="183.40" stroke="#ffffff" stroke-width="0.7"/>
<text x="389.10" y="230.86" font-size="6" fill="#595959" text-anchor="middle">NO.9</text>
<rect x="423.30" y="121.90" width="16.80" height="61.00" fill="#d9d9d9"/>
<rect x="423.30" y="182.90" width="16.80" height="38.70" fill="#3b5d86"/>
<line x1="423.30" y1="182.90" x2="440.10" y2="182.90" stroke="#ffffff" stroke-width="0.7"/>
<text x="431.70" y="230.86" font-size="6" fill="#595959" text-anchor="middle">NO.10</text>
</svg>
<div class="bar"></div><div class="t">排行数据图表</div>
<svg class="logo" viewBox="0 0 29 29"><circle cx="14.55" cy="14.45" r="14.35" fill="#1fa079"/>
<path d="M0.2,14.4 A14.35,14.35 0 0 1 28.9,14.4 Z" fill="#2a6fb8"/>
<path d="M2.6,14.4 A11.95,11.95 0 0 1 26.5,14.4" fill="none" stroke="#fff" stroke-width="1.3" stroke-dasharray="1.2 1.15" opacity="0.6"/>
<path d="M2.6,14.6 A11.95,11.95 0 0 0 26.5,14.6" fill="none" stroke="#fff" stroke-width="1" stroke-dasharray="0.9 1.2" opacity="0.35"/>
<circle cx="14.55" cy="14.6" r="9.55" fill="#fff"/>
<path d="M8.2,10 C7,13.2 7.4,16.5 9.5,18.7 C11,20.3 13,21 14.9,20.7" fill="none" stroke="#1e9a70" stroke-width="1.9" stroke-linecap="round"/>
<path d="M11.6,17.8 C10.4,15 9.8,12 10.4,9.9 C11.2,7.4 13.6,6.6 15.7,7 C16.6,7.2 17.2,7.9 17.4,8.6 C14.9,9.4 13,12.6 11.6,17.8 Z" fill="#d41a50"/>
<path d="M13.1,14.1 C13.9,11.4 15.6,9.6 17.8,9.6 C20.2,9.6 22,11.2 21.9,13.6 C20.6,15 18.6,14.7 17,14.5 C15.6,14.3 14.2,14.2 13.1,14.1 Z" fill="#1e9a70"/>
<rect x="12.7" y="15.4" width="7.3" height="4.3" rx="1.6" fill="#ea8aa6"/>
<path d="M14.1,17.55 H18.6 M16.35,15.7 V19.4" stroke="#d41a50" stroke-width="0.9"/>
<rect x="13.6" y="21.7" width="2.8" height="1" fill="#bbbbbb"/></svg>
<div class="pn">49</div>
</div>
<div class="s" style="left:0px;top:1120px">
<svg class="c" width="475" height="270" viewBox="0 0 475 270">
<defs><filter id="bl50" x="-50%" y="-50%" width="200%" height="200%"><feGaussianBlur stdDeviation="4"/></filter><linearGradient id="pg50" x1="0" y1="0" x2="0" y2="1"><stop offset="0" stop-color="#fdfdfd"/><stop offset="1" stop-color="#f8f8f8"/></linearGradient></defs>
<rect x="35.00" y="101.00" width="417.00" height="109.00" fill="url(#pg50)"/>
<text x="218.25" y="72.80" font-size="13.9" fill="#4a4a4a" text-anchor="middle">折线图数据分析工具</text>
<line x1="176.60" y1="93.00" x2="187.00" y2="93.00" stroke="#c0c0c0" stroke-width="1.2" stroke-dasharray="1.2 1.2"/>
<circle cx="181.5" cy="93" r="1.8" fill="#c0c0c0"/>
<text x="188.50" y="96.53" font-size="9.8" fill="#595959">Series 1</text>
<line x1="250.90" y1="93.00" x2="261.30" y2="93.00" stroke="#3b5d86" stroke-width="1.2" stroke-dasharray="1.2 1.2"/>
<circle cx="255.8" cy="93" r="1.8" fill="#3b5d86"/>
<text x="262.20" y="96.53" font-size="9.8" fill="#595959">Series 2</text>
<text x="32.60" y="107.43" font-size="6.8" fill="#bababa" text-anchor="end">230</text>
<text x="32.60" y="114.75" font-size="6.8" fill="#bababa" text-anchor="end">210</text>
<text x="32.60" y="122.07" font-size="6.8" fill="#bababa" text-anchor="end">190</text>
<text x="32.60" y="129.39" font-size="6.8" fill="#bababa" text-anchor="end">170</text>
<text x="32.60" y="136.71" font-size="6.8" fill="#bababa" text-anchor="end">150</text>
<text x="32.60" y="144.03" font-size="6.8" fill="#bababa" text-anchor="end">130</text>
<text x="32.60" y="151.35" font-size="6.8" fill="#bababa" text-anchor="end">110</text>
<text x="32.60" y="158.67" font-size="6.8" fill="#bababa" text-anchor="end">90</text>
<text x="32.60" y="165.99" font-size="6.8" fill="#bababa" text-anchor="end">70</text>
<text x="32.60" y="173.31" font-size="6.8" fill="#bababa" text-anchor="end">50</text>
<text x="32.60" y="180.63" font-size="6.8" fill="#bababa" text-anchor="end">30</text>
<text x="32.60" y="187.95" font-size="6.8" fill="#bababa" text-anchor="end">10</text>
<text x="32.60" y="195.27" font-size="6.8" fill="#bababa" text-anchor="end">-10</text>
<text x="32.60" y="202.59" font-size="6.8" fill="#bababa" text-anchor="end">-30</text>
<text x="32.60" y="209.91" font-size="6.8" fill="#bababa" text-anchor="end">-50</text>
<ellipse cx="67.75" cy="180.86" rx="9" ry="5.5" fill="#bbbbbb" opacity="0.24" filter="url(#bl50)"/>
<ellipse cx="119.57" cy="169.88" rx="9" ry="5.5" fill="#bbbbbb" opacity="0.24" filter="url(#bl50)"/>
<ellipse cx="171.39" cy="188.18" rx="9" ry="5.5" fill="#bbbbbb" opacity="0.24" filter="url(#bl50)"/>
<ellipse cx="223.21" cy="166.22" rx="9" ry="5.5" fill="#bbbbbb" opacity="0.24" filter="url(#bl50)"/>
<ellipse cx="275.03" cy="184.52" rx="9" ry="5.5" fill="#bbbbbb" opacity="0.24" filter="url(#bl50)"/>
<ellipse cx="326.85" cy="162.56" rx="9" ry="5.5" fill="#bbbbbb" opacity="0.24" filter="url(#bl50)"/>
<ellipse cx="378.67" cy="182.69" rx="9" ry="5.5" fill="#bbbbbb" opacity="0.24" filter="url(#bl50)"/>
<ellipse cx="430.49" cy="169.88" rx="9" ry="5.5" fill="#bbbbbb" opacity="0.24" filter="url(#bl50)"/>
<ellipse cx="67.75" cy="199.16" rx="9" ry="5.5" fill="#bbbbbb" opacity="0.24" filter="url(#bl50)"/>
<ellipse cx="119.57" cy="180.86" rx="9" ry="5.5" fill="#bbbbbb" opacity="0.24" filter="url(#bl50)"/>
<ellipse cx="171.39" cy="125.96" rx="9" ry="5.5" fill="#bbbbbb" opacity="0.24" filter="url(#bl50)"/>
<ellipse cx="223.21" cy="195.50" rx="9" ry="5.5" fill="#bbbbbb" opacity="0.24" filter="url(#bl50)"/>
<ellipse cx="275.03" cy="169.88" rx="9" ry="5.5" fill="#bbbbbb" opacity="0.24" filter="url(#bl50)"/>
<ellipse cx="326.85" cy="173.54" rx="9" ry="5.5" fill="#bbbbbb" opacity="0.24" filter="url(#bl50)"/>
<ellipse cx="378.67" cy="133.28" rx="9" ry="5.5" fill="#bbbbbb" opacity="0.24" filter="url(#bl50)"/>
<ellipse cx="430.49" cy="129.62" rx="9" ry="5.5" fill="#bbbbbb" opacity="0.24" filter="url(#bl50)"/>
<path d="M63.75,170.86 C72.39,169.03 98.30,158.66 115.57,159.88 C132.84,161.10 150.12,178.79 167.39,178.18 C184.66,177.57 201.94,156.83 219.21,156.22 C236.48,155.61 253.76,175.13 271.03,174.52 C288.30,173.91 305.58,152.87 322.85,152.56 C340.12,152.25 357.40,171.47 374.67,172.69 C391.94,173.91 417.85,162.01 426.49,159.88" fill="none" stroke="#c0c0c0" stroke-width="2"/>
<path d="M63.75,189.16 C72.39,186.11 98.30,183.06 115.57,170.86 C132.84,158.66 150.12,113.52 167.39,115.96 C184.66,118.40 201.94,178.18 219.21,185.50 C236.48,192.82 253.76,163.54 271.03,159.88 C288.30,156.22 305.58,169.64 322.85,163.54 C340.12,157.44 357.40,130.60 374.67,123.28 C391.94,115.96 417.85,120.23 426.49,119.62" fill="none" stroke="#3b5d86" stroke-width="2"/>
<circle cx="63.75" cy="170.86" r="3" fill="#c0c0c0" stroke="#fff" stroke-width="1"/>
<circle cx="115.57" cy="159.88" r="3" fill="#c0c0c0" stroke="#fff" stroke-width="1"/>
<circle cx="167.39" cy="178.18" r="3" fill="#c0c0c0" stroke="#fff" stroke-width="1"/>
<circle cx="219.21" cy="156.22" r="3" fill="#c0c0c0" stroke="#fff" stroke-width="1"/>
<circle cx="271.03" cy="174.52" r="3" fill="#c0c0c0" stroke="#fff" stroke-width="1"/>
<circle cx="322.85" cy="152.56" r="3" fill="#c0c0c0" stroke="#fff" stroke-width="1"/>
<circle cx="374.67" cy="172.69" r="3" fill="#c0c0c0" stroke="#fff" stroke-width="1"/>
<circle cx="426.49" cy="159.88" r="3" fill="#c0c0c0" stroke="#fff" stroke-width="1"/>
<circle cx="63.75" cy="189.16" r="3" fill="#3b5d86" stroke="#fff" stroke-width="1"/>
<circle cx="115.57" cy="170.86" r="3" fill="#3b5d86" stroke="#fff" stroke-width="1"/>
<circle cx="167.39" cy="115.96" r="3" fill="#3b5d86" stroke="#fff" stroke-width="1"/>
<circle cx="219.21" cy="185.50" r="3" fill="#3b5d86" stroke="#fff" stroke-width="1"/>
<circle cx="271.03" cy="159.88" r="3" fill="#3b5d86" stroke="#fff" stroke-width="1"/>
<circle cx="322.85" cy="163.54" r="3" fill="#3b5d86" stroke="#fff" stroke-width="1"/>
<circle cx="374.67" cy="123.28" r="3" fill="#3b5d86" stroke="#fff" stroke-width="1"/>
<circle cx="426.49" cy="119.62" r="3" fill="#3b5d86" stroke="#fff" stroke-width="1"/>
<text x="63.75" y="221.73" font-size="6.9" fill="#adadad" text-anchor="middle">数据1</text>
<text x="115.57" y="221.73" font-size="6.9" fill="#adadad" text-anchor="middle">数据2</text>
<text x="167.39" y="221.73" font-size="6.9" fill="#adadad" text-anchor="middle">数据3</text>
<text x="219.21" y="221.73" font-size="6.9" fill="#adadad" text-anchor="middle">数据4</text>
<text x="271.03" y="221.73" font-size="6.9" fill="#adadad" text-anchor="middle">数据5</text>
<text x="322.85" y="221.73" font-size="6.9" fill="#adadad" text-anchor="middle">数据6</text>
<text x="374.67" y="221.73" font-size="6.9" fill="#adadad" text-anchor="middle">数据7</text>
<text x="426.49" y="221.73" font-size="6.9" fill="#adadad" text-anchor="middle">数据8</text>
</svg>
<div class="bar"></div><div class="t">折线图数据分析工具</div>
<svg class="logo" viewBox="0 0 29 29"><circle cx="14.55" cy="14.45" r="14.35" fill="#1fa079"/>
<path d="M0.2,14.4 A14.35,14.35 0 0 1 28.9,14.4 Z" fill="#2a6fb8"/>
<path d="M2.6,14.4 A11.95,11.95 0 0 1 26.5,14.4" fill="none" stroke="#fff" stroke-width="1.3" stroke-dasharray="1.2 1.15" opacity="0.6"/>
<path d="M2.6,14.6 A11.95,11.95 0 0 0 26.5,14.6" fill="none" stroke="#fff" stroke-width="1" stroke-dasharray="0.9 1.2" opacity="0.35"/>
<circle cx="14.55" cy="14.6" r="9.55" fill="#fff"/>
<path d="M8.2,10 C7,13.2 7.4,16.5 9.5,18.7 C11,20.3 13,21 14.9,20.7" fill="none" stroke="#1e9a70" stroke-width="1.9" stroke-linecap="round"/>
<path d="M11.6,17.8 C10.4,15 9.8,12 10.4,9.9 C11.2,7.4 13.6,6.6 15.7,7 C16.6,7.2 17.2,7.9 17.4,8.6 C14.9,9.4 13,12.6 11.6,17.8 Z" fill="#d41a50"/>
<path d="M13.1,14.1 C13.9,11.4 15.6,9.6 17.8,9.6 C20.2,9.6 22,11.2 21.9,13.6 C20.6,15 18.6,14.7 17,14.5 C15.6,14.3 14.2,14.2 13.1,14.1 Z" fill="#1e9a70"/>
<rect x="12.7" y="15.4" width="7.3" height="4.3" rx="1.6" fill="#ea8aa6"/>
<path d="M14.1,17.55 H18.6 M16.35,15.7 V19.4" stroke="#d41a50" stroke-width="0.9"/>
<rect x="13.6" y="21.7" width="2.8" height="1" fill="#bbbbbb"/></svg>
<div class="pn">50</div>
</div>
<div class="s" style="left:485px;top:1120px">
<svg class="c" width="475" height="270" viewBox="0 0 475 270">
<text x="151.25" y="72.59" font-size="8.3" fill="#595959" text-anchor="middle">输入图表标题</text>
<text x="34.00" y="176.34" font-size="6.5" fill="#595959" text-anchor="middle">0</text>
<text x="34.00" y="161.02" font-size="6.5" fill="#595959" text-anchor="middle">1</text>
<text x="34.00" y="145.70" font-size="6.5" fill="#595959" text-anchor="middle">2</text>
<text x="34.00" y="130.38" font-size="6.5" fill="#595959" text-anchor="middle">3</text>
<text x="34.00" y="115.06" font-size="6.5" fill="#595959" text-anchor="middle">4</text>
<text x="34.00" y="99.74" font-size="6.5" fill="#595959" text-anchor="middle">5</text>
<text x="34.00" y="84.42" font-size="6.5" fill="#595959" text-anchor="middle">6</text>
<text x="43.30" y="185.64" font-size="6.5" fill="#595959" text-anchor="middle">NO.1</text>
<text x="121.50" y="185.64" font-size="6.5" fill="#595959" text-anchor="middle">NO.2</text>
<text x="200.80" y="185.64" font-size="6.5" fill="#595959" text-anchor="middle">NO.3</text>
<text x="279.60" y="185.64" font-size="6.5" fill="#595959" text-anchor="middle">NO.4</text>
<path d="M43.30,137.23 C56.33,132.13 95.25,105.06 121.50,106.59 C147.75,108.12 174.45,142.34 200.80,146.42 C227.15,150.51 266.47,133.66 279.60,131.10" fill="none" stroke="#d9d9d9" stroke-width="2.8" stroke-linecap="round"/>
<path d="M43.30,143.36 C56.33,143.36 95.25,145.91 121.50,143.36 C147.75,140.81 174.45,135.70 200.80,128.04 C227.15,120.38 266.47,102.51 279.60,97.40" fill="none" stroke="#a5a5a5" stroke-width="2.8" stroke-linecap="round"/>
<path d="M43.30,108.12 C56.33,112.72 95.25,133.66 121.50,135.70 C147.75,137.74 174.45,125.49 200.80,120.38 C227.15,115.27 266.47,107.61 279.60,105.06" fill="none" stroke="#3b5d86" stroke-width="2.8" stroke-linecap="round"/>
<text x="33.60" y="218.48" font-size="6.9" fill="#595959">标题数字等都可以通过点击和重新输入进行更改，顶部<tspan font-family="Noto Sans CJK SC">“</tspan>开始<tspan font-family="Noto Sans CJK SC">”</tspan>面板中可以对字体、</text>
<text x="33.60" y="231.08" font-size="6.9" fill="#595959">字号、进行修改等编辑操作</text>
<text x="315.80" y="82.75" font-size="11.8" fill="#3b5d86" font-weight="bold">点击此处添加标题</text>
<text x="315.80" y="97.79" font-size="6.93" fill="#595959">标题数字等都可以通过点击和重新输入进行</text>
<text x="315.80" y="110.79" font-size="6.93" fill="#595959">更改，顶部<tspan font-family="Noto Sans CJK SC">“</tspan>开始<tspan font-family="Noto Sans CJK SC">”</tspan>面板中可以对字体、字</text>
<text x="315.80" y="122.79" font-size="6.93" fill="#595959">号、进行修改等编辑操作</text>
<text x="315.80" y="167.00" font-size="11.8" fill="#3b5d86" font-weight="bold">点击此处添加标题</text>
<text x="315.80" y="181.69" font-size="6.93" fill="#595959">标题数字等都可以通过点击和重新输入进行</text>
<text x="315.80" y="194.99" font-size="6.93" fill="#595959">更改，顶部<tspan font-family="Noto Sans CJK SC">“</tspan>开始<tspan font-family="Noto Sans CJK SC">”</tspan>面板中可以对字体、字</text>
<text x="315.80" y="206.69" font-size="6.93" fill="#595959">号、进行修改等编辑操作</text>
</svg>
<div class="bar"></div><div class="t">折线图表</div>
<svg class="logo" viewBox="0 0 29 29"><circle cx="14.55" cy="14.45" r="14.35" fill="#1fa079"/>
<path d="M0.2,14.4 A14.35,14.35 0 0 1 28.9,14.4 Z" fill="#2a6fb8"/>
<path d="M2.6,14.4 A11.95,11.95 0 0 1 26.5,14.4" fill="none" stroke="#fff" stroke-width="1.3" stroke-dasharray="1.2 1.15" opacity="0.6"/>
<path d="M2.6,14.6 A11.95,11.95 0 0 0 26.5,14.6" fill="none" stroke="#fff" stroke-width="1" stroke-dasharray="0.9 1.2" opacity="0.35"/>
<circle cx="14.55" cy="14.6" r="9.55" fill="#fff"/>
<path d="M8.2,10 C7,13.2 7.4,16.5 9.5,18.7 C11,20.3 13,21 14.9,20.7" fill="none" stroke="#1e9a70" stroke-width="1.9" stroke-linecap="round"/>
<path d="M11.6,17.8 C10.4,15 9.8,12 10.4,9.9 C11.2,7.4 13.6,6.6 15.7,7 C16.6,7.2 17.2,7.9 17.4,8.6 C14.9,9.4 13,12.6 11.6,17.8 Z" fill="#d41a50"/>
<path d="M13.1,14.1 C13.9,11.4 15.6,9.6 17.8,9.6 C20.2,9.6 22,11.2 21.9,13.6 C20.6,15 18.6,14.7 17,14.5 C15.6,14.3 14.2,14.2 13.1,14.1 Z" fill="#1e9a70"/>
<rect x="12.7" y="15.4" width="7.3" height="4.3" rx="1.6" fill="#ea8aa6"/>
<path d="M14.1,17.55 H18.6 M16.35,15.7 V19.4" stroke="#d41a50" stroke-width="0.9"/>
<rect x="13.6" y="21.7" width="2.8" height="1" fill="#bbbbbb"/></svg>
<div class="pn">51</div>
</div>
</body>
</html>
